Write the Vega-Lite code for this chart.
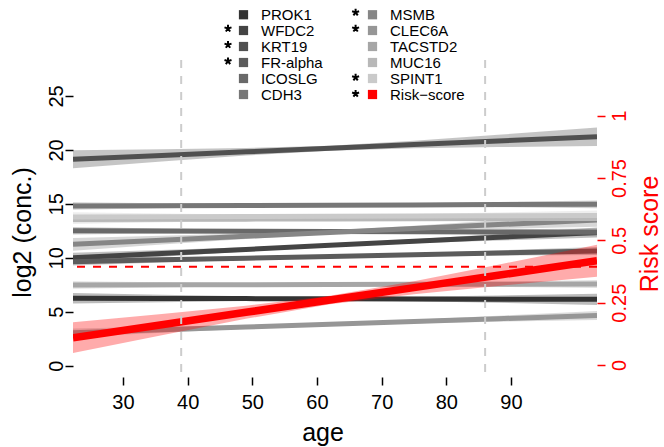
{
  "$schema": "https://vega.github.io/schema/vega-lite/v6.json",
  "width": 524,
  "height": 317,
  "autosize": {"type": "none"},
  "padding": {"left": 73, "top": 60, "right": 67, "bottom": 70},
  "background": "white",
  "config": {"view": {"stroke": null}, "font": "Liberation Sans"},
  "datasets": {
    "fits": [
      {"marker":"PROK1","age":22.27,"fit":6.25,"lo":5.753,"hi":6.747},
      {"marker":"PROK1","age":36,"fit":6.233,"lo":5.891,"hi":6.575},
      {"marker":"PROK1","age":49,"fit":6.217,"lo":6.007,"hi":6.427},
      {"marker":"PROK1","age":62,"fit":6.201,"lo":6.061,"hi":6.341},
      {"marker":"PROK1","age":75,"fit":6.185,"lo":5.975,"hi":6.395},
      {"marker":"PROK1","age":88,"fit":6.169,"lo":5.827,"hi":6.511},
      {"marker":"PROK1","age":103.3,"fit":6.15,"lo":5.635,"hi":6.665},
      {"marker":"WFDC2","age":22.27,"fit":10.01,"lo":9.563,"hi":10.457},
      {"marker":"WFDC2","age":36,"fit":10.405,"lo":10.097,"hi":10.713},
      {"marker":"WFDC2","age":49,"fit":10.779,"lo":10.59,"hi":10.968},
      {"marker":"WFDC2","age":62,"fit":11.152,"lo":11.026,"hi":11.278},
      {"marker":"WFDC2","age":75,"fit":11.526,"lo":11.337,"hi":11.715},
      {"marker":"WFDC2","age":88,"fit":11.9,"lo":11.592,"hi":12.208},
      {"marker":"WFDC2","age":103.3,"fit":12.34,"lo":11.876,"hi":12.804},
      {"marker":"KRT19","age":22.27,"fit":19.13,"lo":18.305,"hi":19.955},
      {"marker":"KRT19","age":36,"fit":19.484,"lo":18.916,"hi":20.052},
      {"marker":"KRT19","age":49,"fit":19.82,"lo":19.472,"hi":20.168},
      {"marker":"KRT19","age":62,"fit":20.155,"lo":19.923,"hi":20.387},
      {"marker":"KRT19","age":75,"fit":20.49,"lo":20.142,"hi":20.838},
      {"marker":"KRT19","age":88,"fit":20.825,"lo":20.257,"hi":21.393},
      {"marker":"KRT19","age":103.3,"fit":21.22,"lo":20.365,"hi":22.075},
      {"marker":"FR-alpha","age":22.27,"fit":9.64,"lo":9.292,"hi":9.988},
      {"marker":"FR-alpha","age":36,"fit":9.808,"lo":9.569,"hi":10.047},
      {"marker":"FR-alpha","age":49,"fit":9.967,"lo":9.82,"hi":10.114},
      {"marker":"FR-alpha","age":62,"fit":10.125,"lo":10.027,"hi":10.223},
      {"marker":"FR-alpha","age":75,"fit":10.284,"lo":10.137,"hi":10.431},
      {"marker":"FR-alpha","age":88,"fit":10.443,"lo":10.204,"hi":10.682},
      {"marker":"FR-alpha","age":103.3,"fit":10.63,"lo":10.269,"hi":10.991},
      {"marker":"ICOSLG","age":22.27,"fit":12.51,"lo":12.162,"hi":12.858},
      {"marker":"ICOSLG","age":36,"fit":12.485,"lo":12.246,"hi":12.724},
      {"marker":"ICOSLG","age":49,"fit":12.461,"lo":12.314,"hi":12.608},
      {"marker":"ICOSLG","age":62,"fit":12.436,"lo":12.338,"hi":12.534},
      {"marker":"ICOSLG","age":75,"fit":12.412,"lo":12.265,"hi":12.559},
      {"marker":"ICOSLG","age":88,"fit":12.388,"lo":12.149,"hi":12.627},
      {"marker":"ICOSLG","age":103.3,"fit":12.36,"lo":11.999,"hi":12.721},
      {"marker":"CDH3","age":22.27,"fit":14.8,"lo":14.452,"hi":15.148},
      {"marker":"CDH3","age":36,"fit":14.827,"lo":14.588,"hi":15.066},
      {"marker":"CDH3","age":49,"fit":14.853,"lo":14.706,"hi":15.0},
      {"marker":"CDH3","age":62,"fit":14.878,"lo":14.78,"hi":14.976},
      {"marker":"CDH3","age":75,"fit":14.904,"lo":14.757,"hi":15.051},
      {"marker":"CDH3","age":88,"fit":14.93,"lo":14.691,"hi":15.169},
      {"marker":"CDH3","age":103.3,"fit":14.96,"lo":14.599,"hi":15.321},
      {"marker":"MSMB","age":22.27,"fit":11.25,"lo":10.654,"hi":11.846},
      {"marker":"MSMB","age":36,"fit":11.631,"lo":11.221,"hi":12.041},
      {"marker":"MSMB","age":49,"fit":11.992,"lo":11.741,"hi":12.243},
      {"marker":"MSMB","age":62,"fit":12.353,"lo":12.185,"hi":12.521},
      {"marker":"MSMB","age":75,"fit":12.714,"lo":12.463,"hi":12.965},
      {"marker":"MSMB","age":88,"fit":13.075,"lo":12.665,"hi":13.485},
      {"marker":"MSMB","age":103.3,"fit":13.5,"lo":12.882,"hi":14.118},
      {"marker":"CLEC6A","age":22.27,"fit":3.06,"lo":2.662,"hi":3.458},
      {"marker":"CLEC6A","age":36,"fit":3.329,"lo":3.055,"hi":3.603},
      {"marker":"CLEC6A","age":49,"fit":3.585,"lo":3.417,"hi":3.753},
      {"marker":"CLEC6A","age":62,"fit":3.84,"lo":3.728,"hi":3.952},
      {"marker":"CLEC6A","age":75,"fit":4.095,"lo":3.927,"hi":4.263},
      {"marker":"CLEC6A","age":88,"fit":4.35,"lo":4.076,"hi":4.624},
      {"marker":"CLEC6A","age":103.3,"fit":4.65,"lo":4.238,"hi":5.062},
      {"marker":"TACSTD2","age":22.27,"fit":7.48,"lo":7.132,"hi":7.828},
      {"marker":"TACSTD2","age":36,"fit":7.495,"lo":7.256,"hi":7.734},
      {"marker":"TACSTD2","age":49,"fit":7.51,"lo":7.363,"hi":7.657},
      {"marker":"TACSTD2","age":62,"fit":7.524,"lo":7.426,"hi":7.622},
      {"marker":"TACSTD2","age":75,"fit":7.539,"lo":7.392,"hi":7.686},
      {"marker":"TACSTD2","age":88,"fit":7.553,"lo":7.314,"hi":7.792},
      {"marker":"TACSTD2","age":103.3,"fit":7.57,"lo":7.209,"hi":7.931},
      {"marker":"MUC16","age":22.27,"fit":13.55,"lo":13.152,"hi":13.948},
      {"marker":"MUC16","age":36,"fit":13.567,"lo":13.293,"hi":13.841},
      {"marker":"MUC16","age":49,"fit":13.583,"lo":13.415,"hi":13.751},
      {"marker":"MUC16","age":62,"fit":13.599,"lo":13.487,"hi":13.711},
      {"marker":"MUC16","age":75,"fit":13.615,"lo":13.447,"hi":13.783},
      {"marker":"MUC16","age":88,"fit":13.631,"lo":13.357,"hi":13.905},
      {"marker":"MUC16","age":103.3,"fit":13.65,"lo":13.238,"hi":14.062},
      {"marker":"SPINT1","age":22.27,"fit":13.78,"lo":13.333,"hi":14.227},
      {"marker":"SPINT1","age":36,"fit":13.804,"lo":13.496,"hi":14.112},
      {"marker":"SPINT1","age":49,"fit":13.826,"lo":13.637,"hi":14.015},
      {"marker":"SPINT1","age":62,"fit":13.849,"lo":13.723,"hi":13.975},
      {"marker":"SPINT1","age":75,"fit":13.871,"lo":13.682,"hi":14.06},
      {"marker":"SPINT1","age":88,"fit":13.894,"lo":13.586,"hi":14.202},
      {"marker":"SPINT1","age":103.3,"fit":13.92,"lo":13.456,"hi":14.384}
    ],
    "risk": [
      {"marker":"Risk−score","age":22.27,"fit":0.1095,"lo":0.0479,"hi":0.1711},
      {"marker":"Risk−score","age":36,"fit":0.1618,"lo":0.1194,"hi":0.2042},
      {"marker":"Risk−score","age":49,"fit":0.2113,"lo":0.1853,"hi":0.2373},
      {"marker":"Risk−score","age":62,"fit":0.2608,"lo":0.2434,"hi":0.2782},
      {"marker":"Risk−score","age":75,"fit":0.3103,"lo":0.2843,"hi":0.3363},
      {"marker":"Risk−score","age":88,"fit":0.3598,"lo":0.3174,"hi":0.4022},
      {"marker":"Risk−score","age":103.3,"fit":0.418,"lo":0.3541,"hi":0.4819}
    ],
    "cuts": [{"age": 39}, {"age": 86}],
    "cutoff": [{"risk": 0.394}]
  },
  "layer": [
    {
      "layer": [
        {
          "data": {"name": "fits"},
          "mark": {"type": "area", "fillOpacity": 0.33, "clip": true},
          "encoding": {
            "x": {"field": "age", "type": "quantitative",
              "scale": {"domain": [22.27, 103.3], "nice": false, "zero": false},
              "axis": {"values": [30, 40, 50, 60, 70, 80, 90], "domain": false, "grid": false,
                "tickSize": 8, "tickWidth": 1.5, "tickColor": "black",
                "labelFontSize": 20, "labelColor": "black", "labelBaseline": "alphabetic", "labelPadding": 23,
                "labelFlush": false, "labelOverlap": false,
                "title": "age", "titleFontSize": 25, "titleFontWeight": "normal", "titleColor": "black",
                "titleX": 249.5, "titleY": 63, "titleAlign": "center", "titleBaseline": "alphabetic"}},
            "y": {"field": "lo", "type": "quantitative",
              "scale": {"domain": [-1.047, 28.33], "nice": false, "zero": false},
              "axis": {"orient": "left", "values": [0, 5, 10, 15, 20, 25], "format": "~g", "domain": false, "grid": false,
                "tickSize": 8, "tickWidth": 1.5, "tickColor": "black",
                "labelFontSize": 20, "labelColor": "black", "labelAngle": 270, "labelAlign": "center",
                "labelBaseline": "alphabetic", "labelPadding": 3, "labelOverlap": false, "labelFlush": false,
                "title": "log2 (conc.)", "titleFontSize": 25, "titleFontWeight": "normal", "titleColor": "black",
                "titleAngle": 270, "titleX": -43, "titleY": 172, "titleAlign": "center", "titleBaseline": "alphabetic"}},
            "y2": {"field": "hi"},
            "fill": {"field": "marker", "type": "nominal",
              "scale": {
                "domain": ["PROK1","WFDC2","KRT19","FR-alpha","ICOSLG","CDH3","MSMB","CLEC6A","TACSTD2","MUC16","SPINT1","Risk−score"],
                "range": ["#333333","#444444","#505050","#5c5c5c","#696969","#777777","#868686","#969696","#a6a6a6","#b8b8b8","#cacaca","#ff0000"]},
              "legend": {"orient": "none", "legendX": 163, "legendY": -53, "columns": 2, "padding": 0,
                "symbolType": "square", "symbolSize": 85, "symbolStrokeWidth": 0, "symbolOpacity": 1,
                "labelFontSize": 15, "labelColor": "black", "labelOffset": 10, "labelLimit": 200,
                "rowPadding": 0, "columnPadding": 42, "title": null}}
          }
        },
        {
          "data": {"name": "fits"},
          "mark": {"type": "line", "strokeWidth": 5, "clip": true},
          "encoding": {
            "x": {"field": "age", "type": "quantitative"},
            "y": {"field": "fit", "type": "quantitative"},
            "stroke": {"field": "marker", "type": "nominal",
              "scale": {
                "domain": ["PROK1","WFDC2","KRT19","FR-alpha","ICOSLG","CDH3","MSMB","CLEC6A","TACSTD2","MUC16","SPINT1","Risk−score"],
                "range": ["#333333","#444444","#505050","#5c5c5c","#696969","#777777","#868686","#969696","#a6a6a6","#b8b8b8","#cacaca","#ff0000"]},
              "legend": null}
          }
        },
        {
          "data": {"values": []},
          "mark": {"type": "point", "filled": false, "color": "black"},
          "encoding": {
            "shape": {"field": "marker", "type": "nominal",
              "scale": {
                "domain": ["PROK1","WFDC2","KRT19","FR-alpha","ICOSLG","CDH3","MSMB","CLEC6A","TACSTD2","MUC16","SPINT1","Risk−score","zz"],
                "range": [
                  "M-1,-1M1,1",
                  "M-1,-1M1,1M0,0L0,-0.8M0,0L0.761,-0.247M0,0L-0.761,-0.247M0,0L0.47,0.647M0,0L-0.47,0.647",
                  "M-1,-1M1,1M0,0L0,-0.8M0,0L0.761,-0.247M0,0L-0.761,-0.247M0,0L0.47,0.647M0,0L-0.47,0.647",
                  "M-1,-1M1,1M0,0L0,-0.8M0,0L0.761,-0.247M0,0L-0.761,-0.247M0,0L0.47,0.647M0,0L-0.47,0.647",
                  "M-1,-1M1,1",
                  "M-1,-1M1,1",
                  "M-1,-1M1,1M0,0L0,-0.8M0,0L0.761,-0.247M0,0L-0.761,-0.247M0,0L0.47,0.647M0,0L-0.47,0.647",
                  "M-1,-1M1,1M0,0L0,-0.8M0,0L0.761,-0.247M0,0L-0.761,-0.247M0,0L0.47,0.647M0,0L-0.47,0.647",
                  "M-1,-1M1,1",
                  "M-1,-1M1,1",
                  "M-1,-1M1,1M0,0L0,-0.8M0,0L0.761,-0.247M0,0L-0.761,-0.247M0,0L0.47,0.647M0,0L-0.47,0.647",
                  "M-1,-1M1,1M0,0L0,-0.8M0,0L0.761,-0.247M0,0L-0.761,-0.247M0,0L0.47,0.647M0,0L-0.47,0.647",
                  "M-1,-1M1,1"]},
              "legend": {"orient": "none", "legendX": 149, "legendY": -53.8, "columns": 2, "padding": 0,
                "values": ["PROK1","WFDC2","KRT19","FR-alpha","ICOSLG","CDH3","MSMB","CLEC6A","TACSTD2","MUC16","SPINT1","Risk−score"],
                "symbolSize": 85, "symbolStrokeWidth": 2, "symbolStrokeColor": "black", "symbolFillColor": "transparent", "symbolOpacity": 1,
                "labelExpr": "''", "labelFontSize": 1, "labelOffset": 0, "labelLimit": 200,
                "rowPadding": -1.7, "columnPadding": 109.6, "title": null}}
          }
        },
        {
          "mark": {"type": "rule", "color": "black", "strokeWidth": 1.5},
          "encoding": {"x": {"datum": 22.27}, "y": {"datum": 0}, "y2": {"datum": 25}}
        },
        {
          "mark": {"type": "rule", "color": "black", "strokeWidth": 1.5},
          "encoding": {"x": {"datum": 30}, "x2": {"datum": 90}, "y": {"datum": -1.047}}
        }
      ]
    },
    {
      "layer": [
        {
          "data": {"name": "risk"},
          "mark": {"type": "area", "fillOpacity": 0.33, "clip": true},
          "encoding": {
            "x": {"field": "age", "type": "quantitative"},
            "y": {"field": "lo", "type": "quantitative",
              "scale": {"domain": [-0.0481, 1.2234], "nice": false, "zero": false},
              "axis": {"orient": "right", "values": [0, 0.25, 0.5, 0.75, 1], "format": "~g", "domain": false, "grid": false,
                "tickSize": 8, "tickWidth": 1.5, "tickColor": "#ff0000",
                "labelFontSize": 20, "labelColor": "#ff0000", "labelAngle": 270, "labelAlign": "center",
                "labelBaseline": "alphabetic", "labelPadding": 20, "labelOverlap": false, "labelFlush": false,
                "title": "Risk score", "titleFontSize": 25, "titleFontWeight": "normal", "titleColor": "#ff0000",
                "titleAngle": 270, "titleX": 60, "titleY": 173.5, "titleAlign": "center", "titleBaseline": "alphabetic"}},
            "y2": {"field": "hi"},
            "fill": {"field": "marker", "type": "nominal"}
          }
        },
        {
          "data": {"name": "risk"},
          "mark": {"type": "line", "strokeWidth": 7.5, "clip": true},
          "encoding": {
            "x": {"field": "age", "type": "quantitative"},
            "y": {"field": "fit", "type": "quantitative"},
            "stroke": {"field": "marker", "type": "nominal", "legend": null}
          }
        },
        {
          "data": {"name": "cutoff"},
          "mark": {"type": "rule", "color": "#ff0000", "strokeWidth": 2, "strokeDash": [8, 8]},
          "encoding": {"y": {"field": "risk", "type": "quantitative"}}
        },
        {
          "mark": {"type": "rule", "color": "#ff0000", "strokeWidth": 1.5},
          "encoding": {"x": {"datum": 103.3}, "y": {"datum": 0}, "y2": {"datum": 1}}
        }
      ]
    },
    {
      "data": {"name": "cuts"},
      "mark": {"type": "rule", "color": "#cccccc", "strokeWidth": 2, "strokeDash": [8, 8]},
      "encoding": {"x": {"field": "age", "type": "quantitative"}}
    }
  ],
  "resolve": {"scale": {"y": "independent"}}
}
